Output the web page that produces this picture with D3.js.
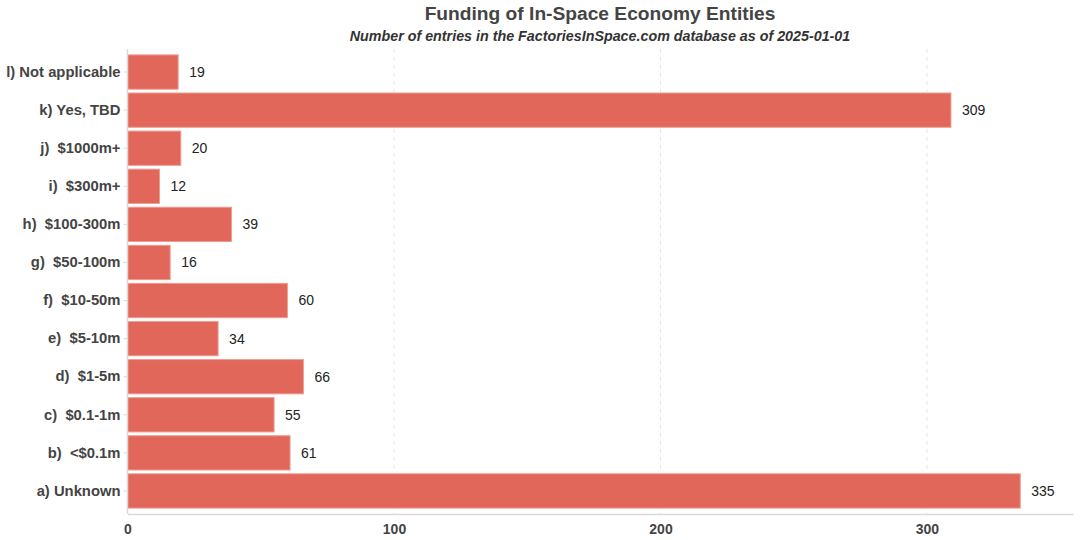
<!DOCTYPE html>
<html><head><meta charset="utf-8">
<script src="https://cdn.jsdelivr.net/npm/d3@7"></script>
<style>
body{margin:0;background:#fff;}
text{font-family:"Liberation Sans",Arial,sans-serif;}
</style></head>
<body><svg id="c" width="1080" height="540"></svg>
<script>
const categories = ["a) Unknown","b)  <$0.1m","c)  $0.1-1m","d)  $1-5m","e)  $5-10m","f)  $10-50m","g)  $50-100m","h)  $100-300m","i)  $300m+","j)  $1000m+","k) Yes, TBD","l) Not applicable"];
const values = [335,61,55,66,34,60,16,39,12,20,309,19];
const xTicks = [0,100,200,300];

(function(){
const svg = d3.select("#c");
const pL = 127.5, pR = 1073, pT = 49, pB = 514;
const x = d3.scaleLinear().domain([0,354.8]).range([pL,pR]);
const order = categories.slice().reverse();
const y = d3.scaleBand().domain(order).range([53,510]).paddingInner(0.1).paddingOuter(0.05);

svg.append("g").selectAll("line").data(xTicks.filter(d=>d>0)).join("line")
  .attr("x1",d=>x(d)).attr("x2",d=>x(d)).attr("y1",pT).attr("y2",pB)
  .attr("stroke","#e6e6e6").attr("stroke-dasharray","4,4");

const data = categories.map((c,i)=>({c,v:values[i]}));
svg.append("g").selectAll("rect").data(data).join("rect")
  .attr("x",x(0)).attr("y",d=>y(d.c)).attr("width",d=>x(d.v)-x(0)).attr("height",y.bandwidth())
  .attr("fill","#e06759").attr("stroke","#f09a90").attr("stroke-width",1);

svg.append("g").selectAll("text").data(data).join("text")
  .attr("x",d=>x(d.v)+11).attr("y",d=>y(d.c)+y.bandwidth()/2).attr("dy","0.35em")
  .attr("font-size",14).attr("fill","#222").text(d=>d.v);

const xa = svg.append("g").attr("transform",`translate(0,${pB})`)
  .call(d3.axisBottom(x).tickValues(xTicks).tickSize(0).tickPadding(10));
xa.select(".domain").attr("stroke","#d9d9d9").attr("stroke-width",1.5);
xa.selectAll("text").attr("font-size",14).attr("font-weight","bold").attr("fill","#444")
  .style("font-family","'Liberation Sans',Arial,sans-serif");

const ya = svg.append("g").attr("transform",`translate(${pL},0)`)
  .call(d3.axisLeft(y).tickSize(4).tickPadding(3));
ya.select(".domain").attr("d",`M0,${pT}V${pB}`).attr("stroke","#d9d9d9").attr("stroke-width",1.5);
ya.selectAll(".tick line").attr("stroke","#d9d9d9");
ya.selectAll("text").attr("font-size",14.8).attr("font-weight","bold").attr("fill","#444")
  .style("white-space","pre").style("font-family","'Liberation Sans',Arial,sans-serif");

svg.append("text").attr("x",600).attr("y",20).attr("text-anchor","middle")
  .attr("font-size",19.2).attr("font-weight","bold").attr("fill","#444")
  .text("Funding of In-Space Economy Entities");
svg.append("text").attr("x",600).attr("y",41).attr("text-anchor","middle")
  .attr("font-size",14.3).attr("font-weight","bold").attr("font-style","italic").attr("fill","#333")
  .text("Number of entries in the FactoriesInSpace.com database as of 2025-01-01");
})();
</script></body></html>
